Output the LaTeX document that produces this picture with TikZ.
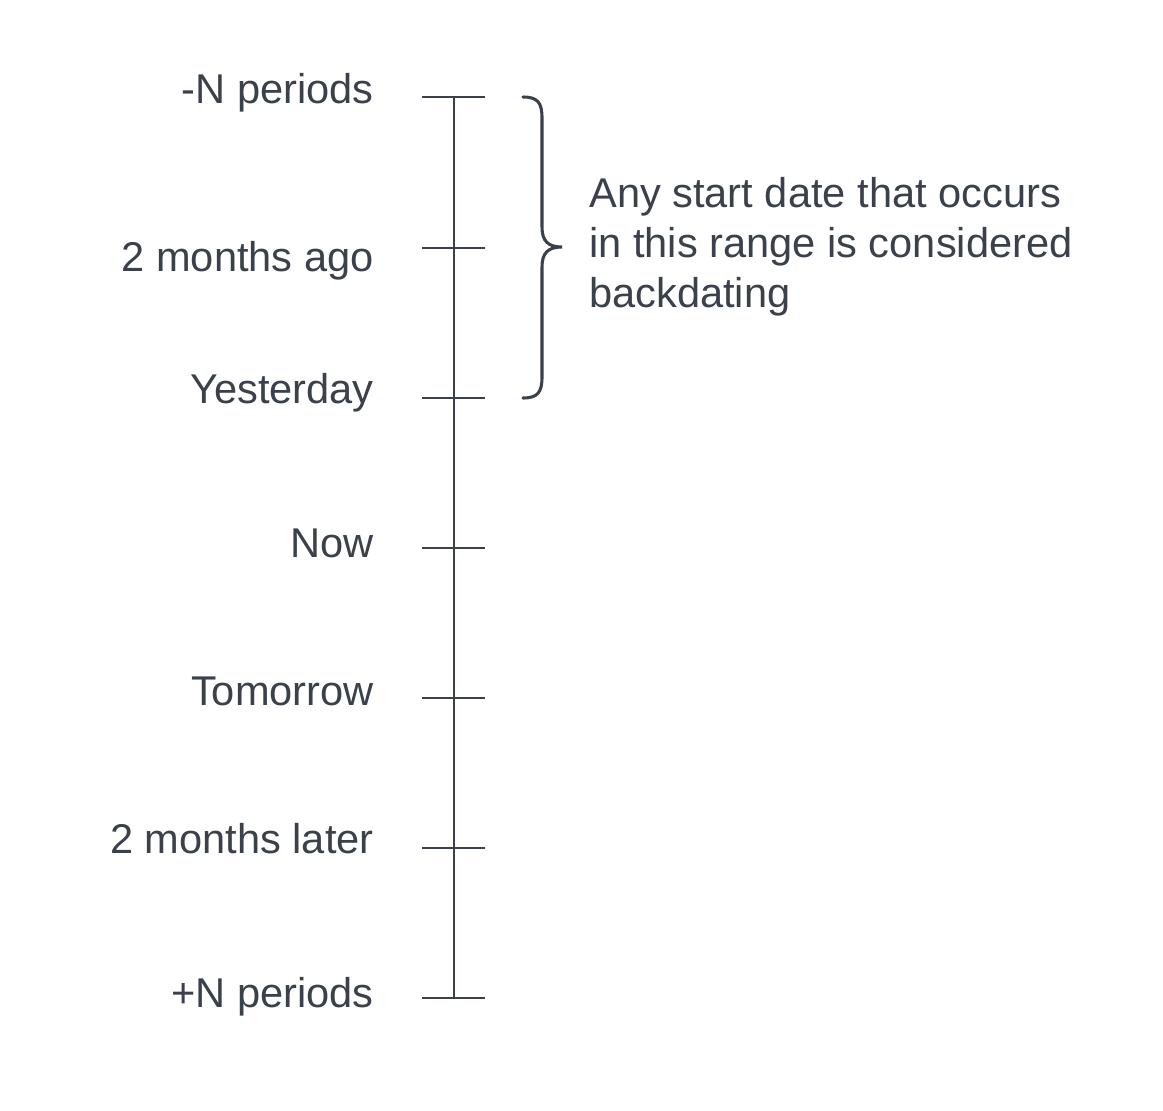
\documentclass[tikz,border=0pt]{standalone}
\usepackage{fontspec}
\setmainfont{Liberation Sans}
\definecolor{ink}{HTML}{3A414B}
\begin{document}
\begin{tikzpicture}[x=0.75pt,y=-0.75pt,
  lbl/.style={anchor=base east,inner sep=0pt,text=ink,font=\fontsize{31.2}{37.5}\selectfont},
  note/.style={anchor=base west,inner sep=0pt,text=ink,font=\fontsize{31.2}{37.5}\selectfont},
  tick/.style={draw=ink,line width=1.5pt},
  brace/.style={draw=ink,line width=2.3pt,line cap=round}]
\useasboundingbox (0,0) rectangle (1163,1110);
% tick positions
\foreach \n/\y in {t1/97,t2/248,t3/398,t4/548,t5/698,t6/848,t7/998}{
  \coordinate (\n l) at (422,\y);
  \coordinate (\n r) at (485,\y);
  \draw[tick] (\n l) -- (\n r);
}
\coordinate (top) at (454,97);
\coordinate (bot) at (454,998);
\draw[tick] (top) -- (bot);
% labels
\node[lbl] (l1) at (374,103) {-N periods};
\node[lbl] (l2) at (374,271) {2 months ago};
\node[lbl] (l3) at (374,403) {Yesterday};
\node[lbl] (l4) at (374,557) {Now};
\node[lbl] (l5) at (374,705) {Tomorrow};
\node[lbl] (l6) at (374,853) {2 months later};
\node[lbl] (l7) at (374,1007) {+N periods};
% brace
\coordinate (bs) at (523,97);
\coordinate (be) at (523,398);
\coordinate (tip) at (562,247);
\draw[brace] (bs) .. controls (538,97) and (542,103) .. (542,118) -- (542,227)
  .. controls (542,241) and (548,247) .. (tip)
  .. controls (548,247) and (542,253) .. (542,267) -- (542,377)
  .. controls (542,392) and (538,398) .. (be);
% note
\node[note] (n1) at (589,207) {Any start date that occurs};
\node[note] (n2) at (589,257) {in this range is considered};
\node[note] (n3) at (589,307) {backdating};
\end{tikzpicture}
\end{document}
